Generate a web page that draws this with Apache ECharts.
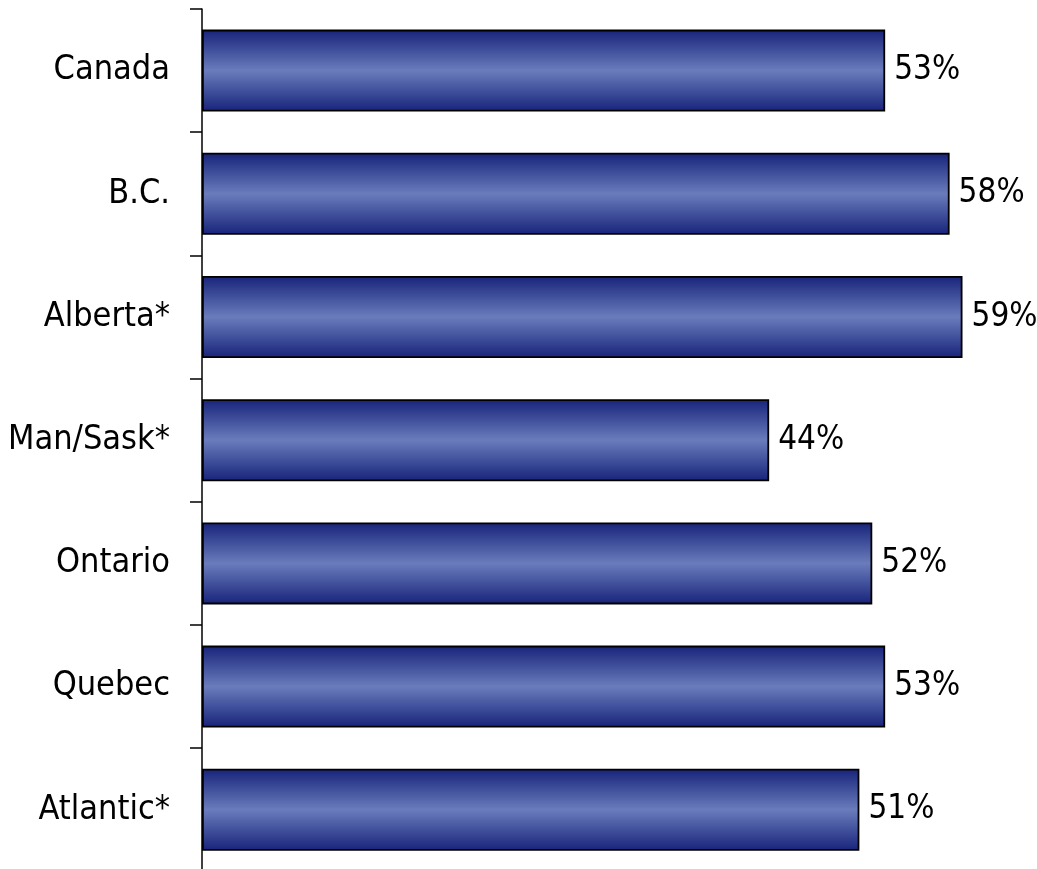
<!DOCTYPE html>
<html><head><meta charset="utf-8">
<script src="https://cdn.jsdelivr.net/npm/echarts@6/dist/echarts.min.js"></script>
<style>html,body{margin:0;padding:0;background:#fff}#c{width:1037px;height:869px}</style>
</head><body><div id="c"></div>
<script>
const categories = ["Canada", "B.C.", "Alberta*", "Man/Sask*", "Ontario", "Quebec", "Atlantic*"];
const values = [53, 58, 59, 44, 52, 53, 51];
const FONT = '"DejaVu Sans Condensed", "Liberation Sans Narrow", "Arial Narrow", sans-serif';
const chart = echarts.init(document.getElementById('c'), null, {renderer: 'canvas'});
chart.setOption({
  animation: false,
  grid: {left: 202, top: 9, width: 773.4, height: 862.4, outerBoundsMode: 'none', containLabel: false},
  xAxis: {type: 'value', min: 0, max: 60, show: false},
  yAxis: {
    type: 'category', data: categories, inverse: true,
    axisLine: {show: true, lineStyle: {color: '#000', width: 1.5}},
    axisTick: {show: true, length: 12, lineStyle: {color: '#000', width: 1.5}},
    axisLabel: {margin: 32, color: '#000', fontFamily: FONT, fontSize: 34}
  },
  series: [{
    type: 'bar', data: values, barWidth: 82,
    itemStyle: {
      borderColor: '#000', borderWidth: 1.8,
      color: {type: 'linear', x: 0, y: 0, x2: 0, y2: 1, colorStops: [
        {offset: 0, color: '#17237a'},
        {offset: 0.5, color: '#6a7cbc'},
        {offset: 1, color: '#17237a'}
      ]}
    },
    label: {show: true, position: 'right', distance: 9, formatter: '{c}%', color: '#000', fontFamily: FONT, fontSize: 33}
  }]
});
</script></body></html>
